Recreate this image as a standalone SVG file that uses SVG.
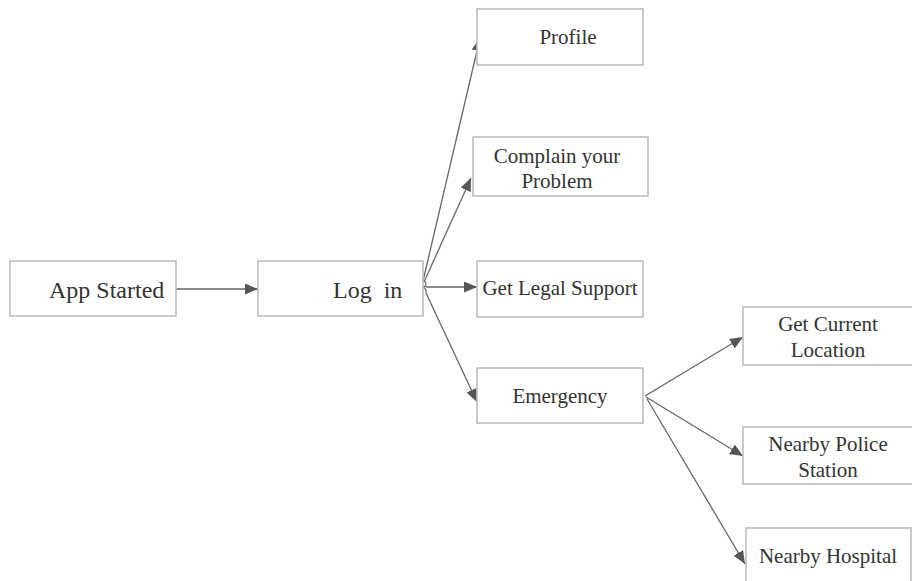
<svg xmlns="http://www.w3.org/2000/svg" width="912" height="581" viewBox="0 0 912 581">
<style>
.box{fill:#fff;stroke:#bdbdbd;stroke-width:1.6}
.t{font-family:'Liberation Serif','DejaVu Serif',serif;font-size:21px;fill:#333;text-anchor:middle}
.tb{font-family:'Liberation Serif','DejaVu Serif',serif;font-size:24px;fill:#333}
.c{fill:none;stroke:#666;stroke-width:1.3}
</style>
<defs>
<marker id="ah" markerUnits="userSpaceOnUse" markerWidth="14" markerHeight="12" refX="13" refY="5.5" orient="auto" viewBox="0 0 14 12">
<path d="M0,0 L13,5.5 L0,11 z" fill="#555"/>
</marker>
</defs>
<rect width="912" height="581" fill="#fff"/>
<g id="connectors">
<line class="c" x1="176" y1="289" x2="258" y2="289" marker-end="url(#ah)"/>
<line class="c" x1="423" y1="281" x2="480" y2="38" marker-end="url(#ah)"/>
<line class="c" x1="424" y1="282" x2="471" y2="178" marker-end="url(#ah)"/>
<line class="c" x1="426" y1="287" x2="477" y2="287" marker-end="url(#ah)"/>
<path class="c" d="M423,287 q4,2 3,6"/>
<line class="c" x1="426" y1="293" x2="477" y2="402" marker-end="url(#ah)"/>
<circle cx="423" cy="284" r="3" fill="none" stroke="#666" stroke-width="1.2"/>
<line class="c" x1="645" y1="396" x2="743" y2="337" marker-end="url(#ah)"/>
<line class="c" x1="646" y1="397" x2="743" y2="456" marker-end="url(#ah)"/>
<line class="c" x1="647" y1="399" x2="745" y2="564" marker-end="url(#ah)"/>
</g>
<g id="app-started">
<rect class="box" x="10" y="261" width="166" height="55"/>
<text class="tb" font-family="Liberation Serif, DejaVu Serif, serif" x="49" y="298">App Started</text>
</g>
<g id="log-in">
<rect class="box" x="258" y="261" width="165" height="55"/>
<text class="tb" font-family="Liberation Serif, DejaVu Serif, serif" x="333" y="298" xml:space="preserve">Log  in</text>
</g>
<g id="profile">
<rect class="box" x="477" y="9" width="166" height="56"/>
<text class="t" font-family="Liberation Serif, DejaVu Serif, serif" x="568" y="44">Profile</text>
</g>
<g id="complain">
<rect class="box" x="473" y="137" width="175" height="59"/>
<text class="t" font-family="Liberation Serif, DejaVu Serif, serif" x="557" y="163">Complain your</text>
<text class="t" font-family="Liberation Serif, DejaVu Serif, serif" x="557" y="188">Problem</text>
</g>
<g id="legal">
<rect class="box" x="477" y="261" width="166" height="56"/>
<text class="t" font-family="Liberation Serif, DejaVu Serif, serif" x="560" y="295">Get Legal Support</text>
</g>
<g id="emergency">
<rect class="box" x="477" y="368" width="166" height="55"/>
<text class="t" font-family="Liberation Serif, DejaVu Serif, serif" x="560" y="403">Emergency</text>
</g>
<g id="location">
<rect class="box" x="743" y="307" width="180" height="58"/>
<text class="t" font-family="Liberation Serif, DejaVu Serif, serif" x="828" y="331">Get Current</text>
<text class="t" font-family="Liberation Serif, DejaVu Serif, serif" x="828" y="357">Location</text>
</g>
<g id="police">
<rect class="box" x="743" y="427" width="180" height="57"/>
<text class="t" font-family="Liberation Serif, DejaVu Serif, serif" x="828" y="451">Nearby Police</text>
<text class="t" font-family="Liberation Serif, DejaVu Serif, serif" x="828" y="477">Station</text>
</g>
<g id="hospital">
<rect class="box" x="746" y="528" width="165" height="70"/>
<text class="t" font-family="Liberation Serif, DejaVu Serif, serif" x="828" y="563">Nearby Hospital</text>
</g>
</svg>
